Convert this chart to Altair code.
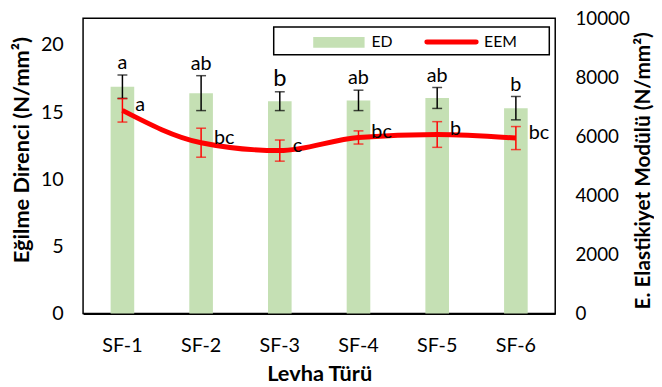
import altair as alt
import pandas as pd

cats = ["SF-1", "SF-2", "SF-3", "SF-4", "SF-5", "SF-6"]
ed = [16.9, 16.42, 15.82, 15.88, 16.06, 15.3]
ed_err = [0.87, 1.3, 0.7, 0.76, 0.78, 0.87]
ed_letters = ["a", "ab", "b", "ab", "ab", "b"]
eem = [6880, 5785, 5518, 5963, 6063, 5942]
eem_err = [396, 491, 358, 223, 435, 390]
eem_letters = ["a", "bc", "c", "bc", "b", "bc"]

df = pd.DataFrame({
    "cat": cats,
    "ed": ed,
    "ed_lo": [v - e for v, e in zip(ed, ed_err)],
    "ed_hi": [v + e for v, e in zip(ed, ed_err)],
    "ed_lab": ed_letters,
    "eem": eem,
    "eem_lo": [v - e for v, e in zip(eem, eem_err)],
    "eem_hi": [v + e for v, e in zip(eem, eem_err)],
    "eem_lab": eem_letters,
})

FONT = "Lato"
xscale = alt.Scale(paddingInner=0.7, paddingOuter=0.35)
xenc = alt.X("cat:N", sort=cats, scale=xscale,
             axis=alt.Axis(title="Levha Türü", labelAngle=0, ticks=False,
                           labelPadding=22, titlePadding=9, domain=True,
                           domainColor="black", domainWidth=2))

yl_scale = alt.Scale(domain=[0, 22], nice=False)
yr_scale = alt.Scale(domain=[0, 10000], nice=False)

base = alt.Chart(df)

bars = base.mark_bar(color="#C5E0B4").encode(
    x=xenc,
    y=alt.Y("ed:Q", scale=yl_scale,
            axis=alt.Axis(title="Eğilme Direnci (N/mm²)", values=[0, 5, 10, 15, 20],
                          grid=False, ticks=False, domain=False, titleY=133,
                          labelPadding=20, titlePadding=7)),
)
ed_rule = base.mark_rule(color="black", strokeWidth=1.5).encode(
    x=alt.X("cat:N", sort=cats), y="ed_lo:Q", y2="ed_hi:Q")
ed_cap_lo = base.mark_tick(color="black", thickness=1.5, size=10).encode(
    x=alt.X("cat:N", sort=cats), y="ed_lo:Q")
ed_cap_hi = base.mark_tick(color="black", thickness=1.5, size=10).encode(
    x=alt.X("cat:N", sort=cats), y="ed_hi:Q")
ed_text = base.mark_text(font=FONT, baseline="alphabetic", dy=-6, color="black").encode(
    x=alt.X("cat:N", sort=cats), y="ed_hi:Q", text="ed_lab:N",
    size=alt.condition("datum.cat == 'SF-3'", alt.value(24), alt.value(20)))

left = alt.layer(bars, ed_rule, ed_cap_lo, ed_cap_hi, ed_text)

line = base.mark_line(color="#FF0000", strokeWidth=5, interpolate="monotone").encode(
    x=alt.X("cat:N", sort=cats),
    y=alt.Y("eem:Q", scale=yr_scale,
            axis=alt.Axis(title="E. Elastikiyet Modülü  (N/mm²)", orient="right",
                          values=[0, 2000, 4000, 6000, 8000, 10000], format="d",
                          grid=False, ticks=False, domain=False, labelFontSize=19,
                          titleFontSize=21, titleY=154,
                          labelPadding=20, titlePadding=24, titleAngle=270)),
)
eem_rule = base.mark_rule(color="#FF0000", strokeWidth=1.5).encode(
    x=alt.X("cat:N", sort=cats), y="eem_lo:Q", y2="eem_hi:Q")
eem_cap_lo = base.mark_tick(color="#FF0000", thickness=1.5, size=10).encode(
    x=alt.X("cat:N", sort=cats), y="eem_lo:Q")
eem_cap_hi = base.mark_tick(color="#FF0000", thickness=1.5, size=10).encode(
    x=alt.X("cat:N", sort=cats), y="eem_hi:Q")
eem_text = base.mark_text(font=FONT, align="left", baseline="middle", dx=13, dy=-5,
                          fontSize=20, color="black").encode(
    x=alt.X("cat:N", sort=cats), y="eem:Q", text="eem_lab:N")

# legend (decoration)
ld = pd.DataFrame({"k": [0]})
lg = alt.Chart(ld)
leg_box = lg.mark_rect(fill="white", stroke="black", strokeWidth=1.5).encode(
    x=alt.value(193), x2=alt.value(472), y=alt.value(9), y2=alt.value(37))
leg_sw = lg.mark_rect(fill="#C5E0B4").encode(
    x=alt.value(233), x2=alt.value(285), y=alt.value(19), y2=alt.value(30))
leg_ed = lg.mark_text(font=FONT, fontSize=16, align="left", baseline="middle").encode(
    x=alt.value(292), y=alt.value(24), text=alt.value("ED"))
leg_ln = lg.mark_rule(color="#FF0000", strokeWidth=5, strokeCap="round").encode(
    x=alt.value(348), x2=alt.value(398), y=alt.value(24))
leg_eem = lg.mark_text(font=FONT, fontSize=16, align="left", baseline="middle").encode(
    x=alt.value(406), y=alt.value(24), text=alt.value("EEM"))

right = alt.layer(line, eem_rule, eem_cap_lo, eem_cap_hi, eem_text,
                  leg_box, leg_sw, leg_ed, leg_ln, leg_eem)

chart = alt.layer(left, right).resolve_scale(y="independent").properties(
    width=478, height=299,
    autosize=alt.AutoSizeParams(type="none"),
    padding={"left": 76, "top": 8, "right": 100, "bottom": 72},
).configure_view(stroke="black", strokeWidth=1.5).configure_axis(
    labelFont=FONT, labelFontSize=20, labelColor="black",
    titleFont=FONT, titleFontSize=22, titleColor="black", titleFontWeight="bold",
)

chart.save("out.html", embed_options={"renderer": "svg", "actions": False})
